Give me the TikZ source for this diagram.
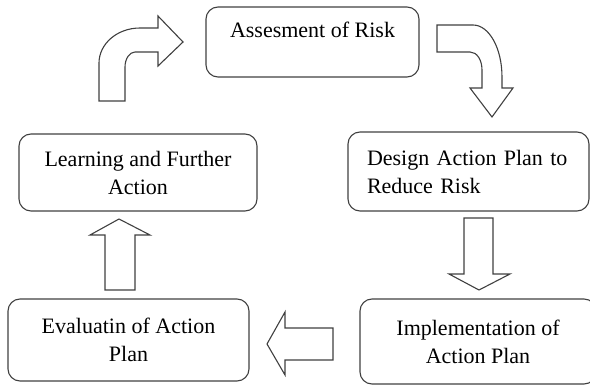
\documentclass[tikz,border=0pt]{standalone}
\usepackage{fontspec}
\setmainfont{Liberation Serif}
\begin{document}
\begin{tikzpicture}[x=1pt,y=-1pt]
  \tikzstyle{boxn}=[rectangle,rounded corners=12pt,draw=black!75,line width=1.1pt,inner sep=0pt,font=\fontsize{22}{28}\selectfont]
  \tikzstyle{blockarr}=[draw=black!75,line width=1.1pt,fill=white,line join=miter]
  \clip (0,0) rectangle (590,385);
  \node(risk)[boxn,minimum width=213pt,minimum height=70pt,text height=15pt,text depth=23pt] at (312.5,42) {Assesment of Risk};
  \node(design)[boxn,align=left,text width=203pt,inner xsep=19pt,minimum height=79pt] at (468.5,171.5) {Design Action Plan to\\Reduce Risk};
  \node(impl)[boxn,align=center,minimum width=236pt,minimum height=85pt] at (478,341.5) {Implementation of\\Action Plan};
  \node(eval)[boxn,align=center,minimum width=241pt,minimum height=82pt] at (128.5,340) {Evaluatin of Action\\Plan};
  \node(learn)[boxn,align=center,minimum width=238pt,minimum height=77pt] at (138,172.5) {Learning and Further\\Action};
  \draw[blockarr] (437,25) -- (473,25) .. controls (489,25) and (502,48) .. (502,77) -- (502,88)
    -- (513,88) -- (492,117) -- (470,88) -- (482,88) -- (482,70)
    .. controls (482,60) and (477,52) .. (470,52) -- (437,52) -- cycle;
  \draw[blockarr] (464,218) -- (493,218) -- (493,274) -- (510,274) -- (479,290) -- (449,274) -- (464,274) -- cycle;
  \draw[blockarr] (333,328) -- (333,360) -- (285,360) -- (285,375) -- (267,344) -- (285,312) -- (285,328) -- cycle;
  \draw[blockarr] (105,290) -- (105,235) -- (90,235) -- (119,219) -- (150,235) -- (135,235) -- (135,290) -- cycle;
  \draw[blockarr] (99,101) -- (99,63) .. controls (99,44) and (117,28) .. (140,28) -- (158,28) -- (158,16)
    -- (183,42) -- (158,66) -- (158,52) -- (135,52) .. controls (129.5,52) and (125,59) .. (125,67)
    -- (125,101) -- cycle;
\end{tikzpicture}
\end{document}
